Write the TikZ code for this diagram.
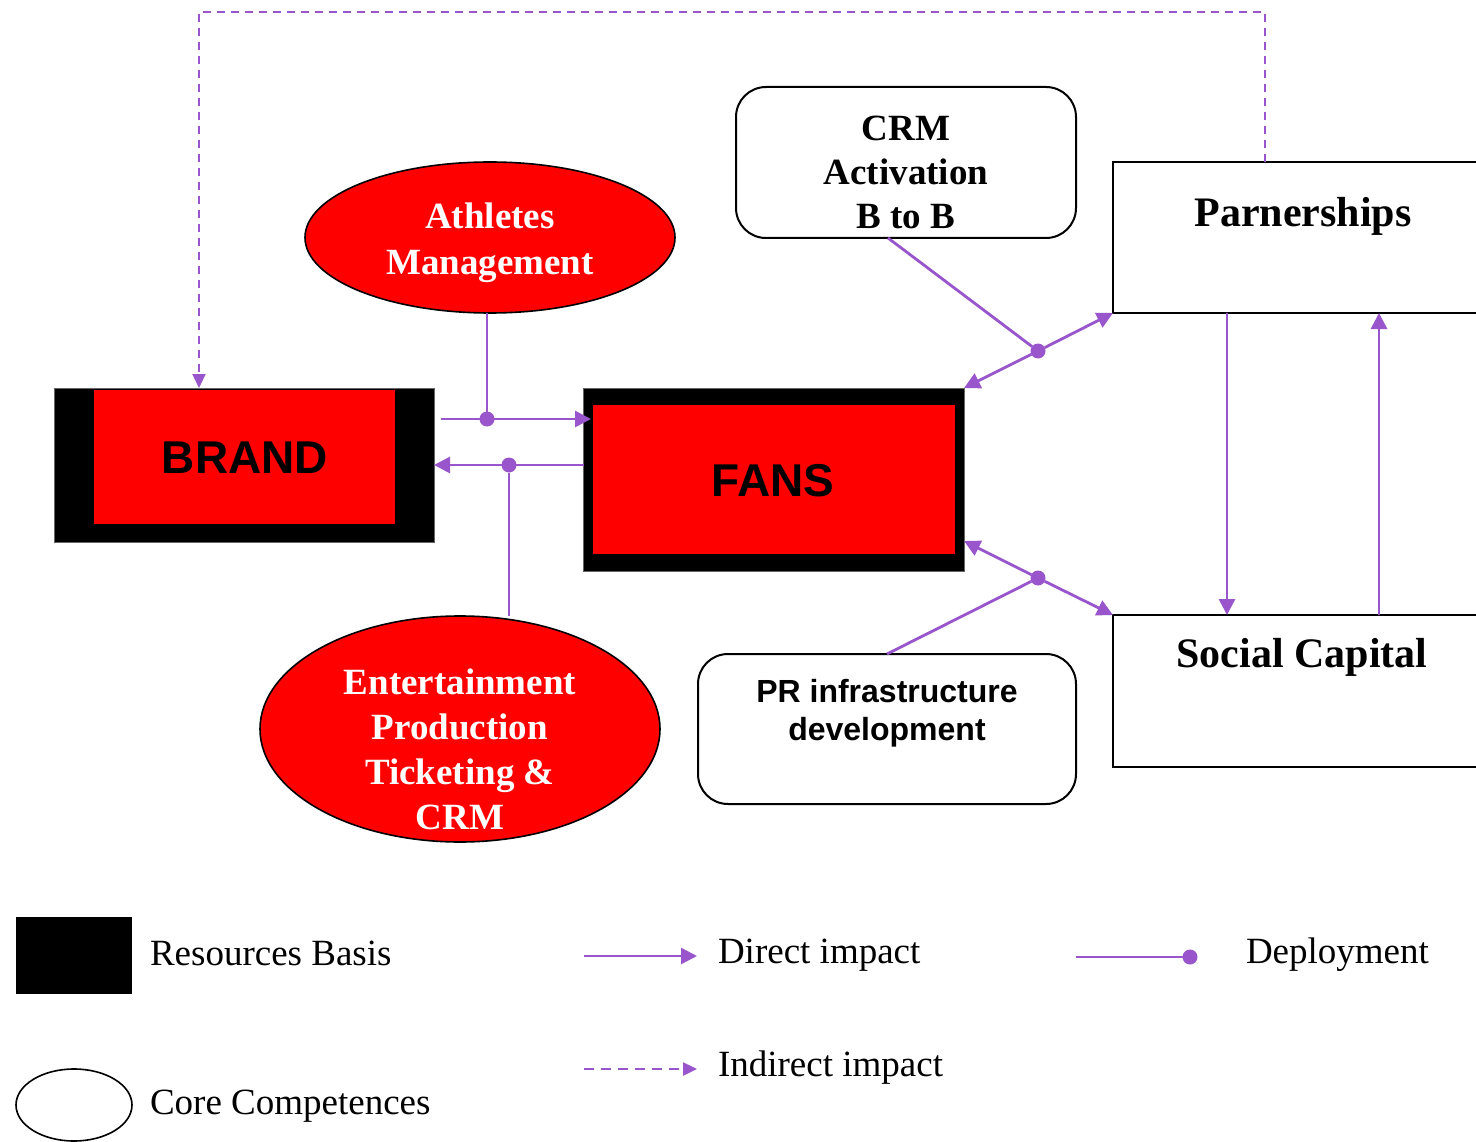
\documentclass[tikz,border=0pt]{standalone}
\usepackage{fontspec}
\setmainfont{Liberation Serif}
\newfontfamily\arialfont{Liberation Sans}
\usetikzlibrary{shapes.geometric,arrows.meta,calc}
\definecolor{link}{RGB}{153,85,204}
\definecolor{corered}{RGB}{255,0,0}
\newcommand{\fsz}[1]{\fontsize{#1}{#1}\selectfont}
\tikzset{
  every node/.style={inner sep=0pt, outer sep=0pt},
  frame/.style={draw=black, line width=2pt, fill=white},
  roundbox/.style={frame, rounded corners=30pt},
  solidblock/.style={fill=black, draw=black!60, line width=0.6pt},
  redblock/.style={fill=corered},
  competence/.style={ellipse, draw=black, line width=1.6pt, fill=corered},
  whitetext/.style={text=white, font=\fsz{37}\bfseries, align=center, text depth=0pt},
  serifbold/.style={font=\fsz{37}\bfseries, align=center},
  sansbold/.style={font=\arialfont\bfseries, align=center},
  impact/.style={draw=link, line width=2.8pt, -{Triangle[length=16pt,width=16pt]}},
  plainlink/.style={draw=link, line width=2.8pt},
  indirect/.style={draw=link, line width=2.2pt, dash pattern=on 8pt off 6pt, -{Triangle[length=14pt,width=13pt]}},
  deploy/.style={circle, fill=link, minimum size=15pt},
  legendtext/.style={anchor=west, font=\fsz{37}},
}
\begin{document}
\begin{tikzpicture}[x=1pt, y=-1pt]
\clip (0,0) rectangle (1476,1142);
\fill[white] (0,0) rectangle (1476,1142);

% resource blocks
\node[solidblock, minimum width=380pt, minimum height=154pt] (brand) at (244,465) {};
\node[redblock, minimum width=301pt, minimum height=134pt] (brandin) at (244.5,457) {};
\node[sansbold, font=\arialfont\bfseries\fsz{46}] (brandtxt) at (245,458) {BRAND};

\node[solidblock, minimum width=381pt, minimum height=183pt] (fans) at (773.5,479.5) {};
\node[redblock, minimum width=362pt, minimum height=149pt] (fansin) at (774,479.5) {};
\node[sansbold, font=\arialfont\bfseries\fsz{46}] (fanstxt) at (773,481) {FANS};

% core competences
\node[competence, minimum width=370pt, minimum height=151pt] (athl) at (490,237.5) {};
\node[whitetext] (athltxt) at (490,239) {Athletes\\[9pt]Management};

\node[competence, minimum width=400pt, minimum height=226pt] (ent) at (460,729) {};
\node[whitetext] (enttxt) at (460,749) {Entertainment\\[8pt]Production\\[8pt]Ticketing \&\\[8pt]CRM};

% other boxes
\node[roundbox, minimum width=340pt, minimum height=151pt] (crm) at (906,162.5) {};
\node[serifbold] (crmtxt) at (906,172) {CRM\\[7pt]Activation\\[7pt]B to B};

\node[roundbox, minimum width=378pt, minimum height=150pt] (pr) at (887,729) {};
\node[sansbold, font=\arialfont\bfseries\fsz{32}] (prtxt) at (887,713) {PR infrastructure\\[6pt]development};

\node[frame, minimum width=400pt, minimum height=151pt] (part) at (1313,237.5) {};
\node[font=\fsz{42}\bfseries] (parttxt) at (1303,216) {Parnerships};

\node[frame, minimum width=400pt, minimum height=152pt] (soc) at (1313,691) {};
\node[font=\fsz{42}\bfseries] (soctxt) at (1302,657) {Social Capital};

% deployment points
\node[deploy] (d1) at (487,419) {};
\node[deploy] (d2) at (509,465) {};
\node[deploy] (d3) at (1038,351) {};
\node[deploy] (d4) at (1038,578) {};

\coordinate (a1s) at (441,419);
\coordinate (a1e) at (591,419);
\coordinate (a2s) at (584,465);
\coordinate (a2e) at (434,465);

% brand / fans links
\draw[plainlink] (athl.south -| d1) -- (d1);
\draw[impact] (a1s) -- (a1e);
\draw[impact] (a2s) -- (a2e);
\draw[plainlink] (d2) -- (ent.north -| d2);

% crm links
\draw[plainlink] (crm.south -| 888,0) -- (d3);
\draw[impact] (d3) -- (part.south west);
\draw[impact] (d3) -- (fans.north east);

% pr links
\draw[plainlink] (pr.north -| 887,0) -- (d4);
\draw[impact] (d4) -- (fans.east |- 0,541);
\draw[impact] (d4) -- (soc.north west);

% partnerships and social capital
\draw[impact] (part.south -| 1227,0) -- (soc.north -| 1227,0);
\draw[impact] (soc.north -| 1379,0) -- (part.south -| 1379,0);

% indirect impact back to the brand
\draw[indirect] (part.north -| 1265,0) -- (1265,12) -- (199,12) -- (brand.north -| 199,0);

% legend
\node[fill=black, minimum width=116pt, minimum height=77pt] (lgres) at (74,955.5) {};
\node[legendtext] (lgrestxt) at (150,953) {Resources Basis};
\node[ellipse, draw=black, line width=1.6pt, minimum width=116pt, minimum height=72pt] (lgcore) at (74,1105) {};
\node[legendtext] (lgcoretxt) at (150,1106) {Core Competences};

\coordinate (lgd1) at (584,956);
\coordinate (lgd2) at (697,956);
\draw[impact, line width=2.4pt] (lgd1) -- (lgd2);
\node[legendtext] (lgdtxt) at (718,955) {Direct impact};

\coordinate (lgi1) at (584,1069);
\coordinate (lgi2) at (697,1069);
\draw[indirect, line width=2.4pt, dash pattern=on 10pt off 7pt] (lgi1) -- (lgi2);
\node[legendtext] (lgitxt) at (718,1068) {Indirect impact};

\node[deploy] (lgdot) at (1190,957) {};
\coordinate (lgp1) at (1076,957);
\draw[plainlink, line width=2.4pt] (lgp1) -- (lgdot);
\node[legendtext] (lgptxt) at (1246,955) {Deployment};
\end{tikzpicture}
\end{document}
